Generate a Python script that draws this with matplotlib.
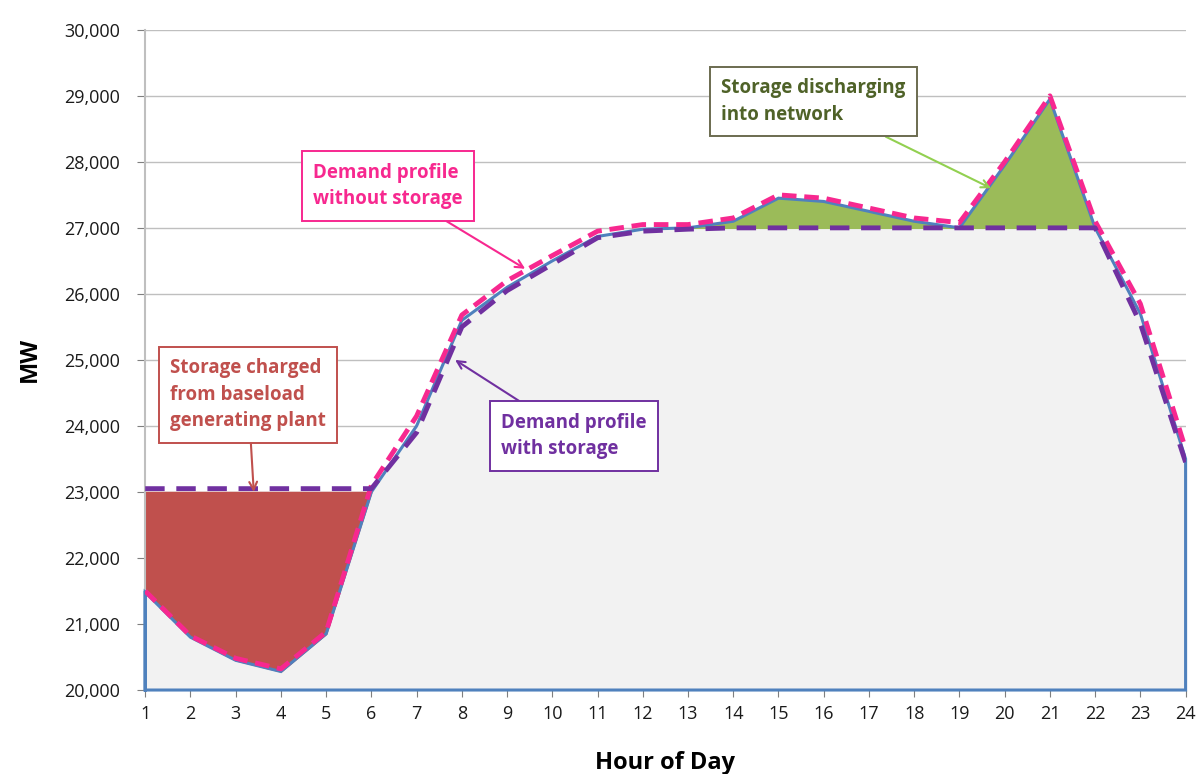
import matplotlib
matplotlib.use("Agg")
import matplotlib.pyplot as plt
import numpy as np

plt.rcParams["font.family"] = ["Open Sans", "DejaVu Sans"]

# ── Data ──────────────────────────────────────────────────────────────────────
hours = list(range(1, 25))
demand = [21480, 20800, 20450, 20280, 20850, 23000, 24000, 25600, 26100, 26500,
          26870, 26980, 27000, 27100, 27450, 27400, 27250, 27100, 27000, 27950,
          28950, 27000, 25700, 23500]
demand_no_storage = [21500, 20820, 20480, 20320, 20880, 23100, 24150, 25680, 26200, 26580,
                     26950, 27050, 27050, 27150, 27500, 27450, 27300, 27150, 27080, 28000,
                     29000, 27100, 25850, 23650]
demand_with_storage = [23050, 23050, 23050, 23050, 23050, 23050, 23900, 25500, 26050, 26450,
                       26850, 26950, 26980, 27000, 27000, 27000, 27000, 27000, 27000, 27000,
                       27000, 27000, 25550, 23450]
baseload_level = 23000
peak_cap = 27000
y_ticks = list(range(20000, 30001, 1000))

# ── Colours ───────────────────────────────────────────────────────────────────
C_FILL = "#f2f2f2"
C_EDGE = "#4f81bd"
C_RED = "#c0504d"
C_GREEN = "#9bbb59"
C_PINK = "#f7288f"
C_PURPLE = "#7030a0"
C_DKGREEN = "#4f6228"

h = np.array(hours)
d = np.array(demand)

fig = plt.figure(figsize=(12, 7.74), dpi=100)
ax = fig.add_axes([0.121, 0.1085, 0.867, 0.853])

# grey area under actual demand
ax.fill_between(h, 20000, d, color=C_FILL, zorder=1)
# storage charging (red) and discharging (green)
ax.fill_between(h, d, baseload_level, where=(h <= 6), color=C_RED, zorder=2)
ax.fill_between(h, peak_cap, d, where=(h >= 13) & (h <= 22), color=C_GREEN, zorder=2)

# area outline
ax.plot(np.r_[h[0], h, h[-1], h[0], h[0]],
        np.r_[20000, d, 20000, 20000, d[0]], color=C_EDGE, lw=2.2, zorder=3,
        solid_joinstyle="miter", clip_on=False)

ax.plot(h, demand_no_storage, color=C_PINK, lw=3.5, ls=(0, (3, 1.6)), zorder=4)
ax.plot(h, demand_with_storage, color=C_PURPLE, lw=3.5, ls=(0, (4, 2.4)), zorder=4)

ax.set_xlim(1, 24)
ax.set_ylim(20000, 30000)
ax.set_xticks(hours)
ax.set_yticks(y_ticks)
ax.set_yticklabels([f"{v:,}" for v in y_ticks])
ax.yaxis.grid(True, color="#bfbfbf", lw=1)
ax.set_axisbelow(True)
for s in ["top", "right", "bottom"]:
    ax.spines[s].set_visible(False)
ax.spines["left"].set_color("#bfbfbf")
ax.spines["left"].set_linewidth(1.5)
ax.tick_params(axis="both", colors="#7f7f7f", labelsize=13, labelcolor="#1a1a1a")
ax.tick_params(axis="y", length=6, pad=12)
ax.tick_params(axis="x", length=5, pad=6)
ax.set_ylabel("MW", fontsize=17, fontweight="bold", labelpad=16)
ax.set_xlabel("Hour of Day", fontsize=17, fontweight="bold", labelpad=20)

# ── Annotations ───────────────────────────────────────────────────────────────
def note(text, xy, xytext, tcol, ecol, acol):
    ax.annotate(text, xy=xy, xytext=xytext, textcoords="data",
                fontsize=13.5, fontweight="bold", color=tcol, ha="left", va="top",
                linespacing=1.45, zorder=6,
                bbox=dict(boxstyle="square,pad=0.6", fc="white", ec=ecol, lw=1.4),
                arrowprops=dict(arrowstyle="->", color=acol, lw=1.5,
                                shrinkA=0, shrinkB=0, mutation_scale=14))

note("Storage charged\nfrom baseload\ngenerating plant",
     xy=(3.4, 23000), xytext=(1.55, 25030), tcol=C_RED, ecol=C_RED, acol=C_RED)
note("Demand profile\nwithout storage",
     xy=(9.4, 26380), xytext=(4.72, 27990), tcol=C_PINK, ecol=C_PINK, acol=C_PINK)
note("Demand profile\nwith storage",
     xy=(7.85, 25000), xytext=(8.87, 24200), tcol=C_PURPLE, ecol=C_PURPLE, acol=C_PURPLE)
note("Storage discharging\ninto network",
     xy=(19.7, 27600), xytext=(13.74, 29270), tcol=C_DKGREEN, ecol="#6b6b50", acol="#92d050")

fig.savefig("out.png", dpi=100)
